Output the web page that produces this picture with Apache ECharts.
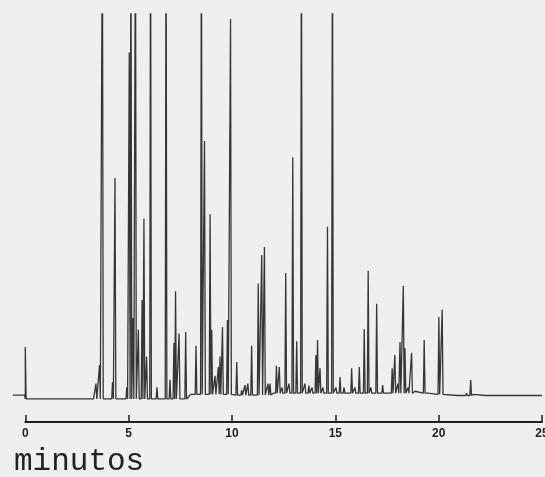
<!DOCTYPE html>
<html>
<head>
<meta charset="utf-8">
<script src="https://cdn.jsdelivr.net/npm/echarts@6/dist/echarts.min.js"></script>
<style>
html,body{margin:0;padding:0;background:#efefef;}
#c{width:545px;height:477px;}
</style>
</head>
<body>
<div id="c"></div>
<script>
// Peak retention times (minutes) and heights (% of full scale; >100 = off scale)
const peakTimes = [0.0, 3.42, 3.59, 3.73, 4.22, 4.34, 4.91, 5.03, 5.11, 5.21, 5.33, 5.47, 5.65, 5.74, 5.87, 6.06, 6.37,
  6.81, 7.0, 7.19, 7.27, 7.44, 7.76, 8.26, 8.52, 8.67, 8.94, 9.02, 9.18, 9.34, 9.42, 9.54, 9.78, 9.93,
  10.23, 10.47, 10.63, 10.77, 10.95, 11.27, 11.44, 11.57, 11.74, 11.84, 12.15, 12.29, 12.42, 12.6, 12.76,
  12.94, 13.13, 13.36, 13.53, 13.72, 13.87, 14.06, 14.14, 14.26, 14.4, 14.62, 14.86, 15.03, 15.23, 15.42,
  15.61, 15.79, 15.95, 16.16, 16.4, 16.59, 16.72, 17.0, 17.29, 17.55, 17.75, 17.88, 18.03, 18.13, 18.29,
  18.37, 18.52, 18.69, 18.85, 19.3, 19.43, 20.01, 20.17, 20.95, 21.35, 21.55, 21.71, 22.3, 22.82, 23.9];
const peakHeights = [13.5, 4, 8.8, 130, 4.4, 57.4, 3, 90, 130, 21, 130, 18, 25.7, 46.8, 11, 130, 3,
  130, 5, 14.5, 28, 17, 17.4, 13.8, 130, 67, 48, 18, 6, 8.3, 11, 18.7, 20.5, 98.7,
  9.6, 2.3, 3.6, 4, 13.8, 30, 37.4, 39.5, 4, 4, 8.6, 8.3, 3, 32.7, 4,
  62.8, 15, 130, 4, 3.5, 3, 11.4, 15.3, 8, 3, 44.7, 130, 3, 5.7, 3,
  2, 8, 3, 8.3, 18.2, 33.3, 3, 24.7, 3.6, 2, 8, 11.4, 4, 14.8, 29.4,
  13.2, 3, 12, 2, 15.3, 2, 21.3, 23.2, 1.3, 1.5, 4.9, 1.2, 0.8, 0.8, 0.7];
// Baseline level (piecewise, % of full scale)
const baseTimes  = [-0.6, 0.0, 3.3, 8.0, 10.0, 12.0, 15.0, 19.5, 20.3, 25.0];
const baseLevels = [1.0, 0.0, 0.0, 1.2, 1.0, 1.5, 1.5, 1.2, 0.9, 0.9];

function baseAt(t){
  let b = baseLevels[0];
  for (let i = 0; i < baseTimes.length; i++) if (baseTimes[i] <= t) b = baseLevels[i];
  return b;
}
const w = 0.04;
const pts = [];
baseTimes.forEach((t, i) => pts.push([t, baseLevels[i]]));
peakTimes.forEach((t, i) => {
  pts.push([t - w, baseAt(t - w)]);
  pts.push([t, peakHeights[i]]);
  pts.push([t + w, baseAt(t + w)]);
});
pts.sort((a, b) => a[0] - b[0]);

const chart = echarts.init(document.getElementById('c'), null, {renderer: 'canvas'});
chart.setOption({
  animation: false,
  backgroundColor: '#efefef',
  grid: [
    {left: 12.9, right: 3, top: 14, bottom: 66.5, containLabel: false, outerBoundsMode: 'none'},
    {left: 25.3, right: 3, top: 14, bottom: 55, containLabel: false, outerBoundsMode: 'none'}
  ],
  xAxis: [
    {gridIndex: 0, type: 'value', min: -0.6, max: 25, show: false},
    {gridIndex: 1, type: 'value', min: 0, max: 25, interval: 5,
     axisLine: {show: true, lineStyle: {color: '#1e1e1e', width: 2}},
     axisTick: {show: true, inside: true, length: 7, lineStyle: {color: '#1e1e1e', width: 1.5}},
     axisLabel: {show: true, margin: 6, color: '#222', fontSize: 12, fontWeight: 'bold',
       fontFamily: 'Liberation Sans', showMaxLabel: true, showMinLabel: true, hideOverlap: false},
     splitLine: {show: false}}
  ],
  yAxis: [
    {gridIndex: 0, type: 'value', min: -3, max: 100, show: false},
    {gridIndex: 1, type: 'value', min: 0, max: 1, show: false}
  ],
  graphic: [{
    type: 'text', left: 14, top: 446,
    style: {text: 'minutos', fill: '#222', font: '31px "Liberation Mono"'}
  }],
  series: [{
    type: 'line', xAxisIndex: 0, yAxisIndex: 0, data: pts,
    showSymbol: false, clip: true,
    lineStyle: {color: '#363636', width: 1.3}
  }]
});
</script>
</body>
</html>
